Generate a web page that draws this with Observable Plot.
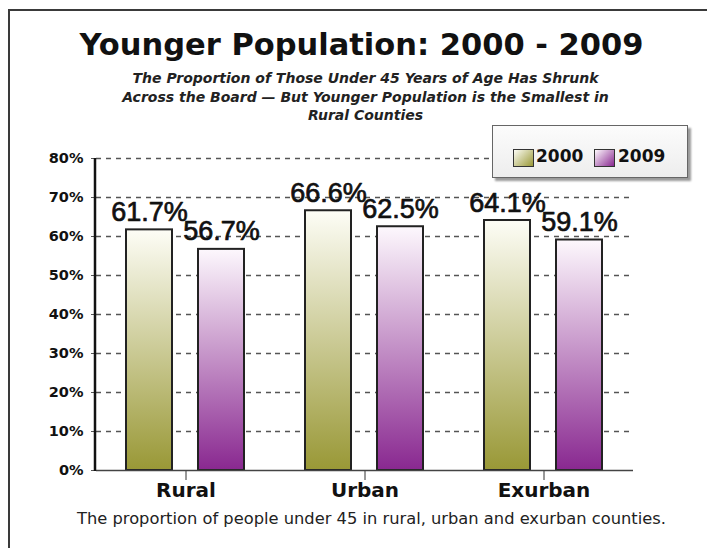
<!DOCTYPE html>
<html>
<head>
<meta charset="utf-8">
<script src="https://cdn.jsdelivr.net/npm/d3@7"></script>
<script src="https://cdn.jsdelivr.net/npm/@observablehq/plot@0.6"></script>
<style>
  html, body { margin: 0; padding: 0; background: #fff; }
  #wrap { position: relative; width: 707px; height: 548px; overflow: hidden; background: #fff; }
  .frame { position: absolute; left: 8px; top: 9px; width: 760px; height: 600px; border-top: 2px solid #3a3a3a; border-left: 2px solid #3a3a3a; box-sizing: border-box; }
  .title { position: absolute; left: 8px; width: 707px; top: 27px; text-align: center; font-family: "DejaVu Sans", sans-serif; font-weight: bold; font-size: 30.5px; line-height: 36px; color: #111; white-space: nowrap; }
  .subtitle { position: absolute; left: 12px; width: 707px; top: 69px; text-align: center; font-family: "DejaVu Sans", sans-serif; font-weight: bold; font-style: italic; font-size: 14px; line-height: 18.5px; color: #222; }
  .caption { position: absolute; left: 18px; width: 707px; top: 509px; text-align: center; font-family: "DejaVu Sans", sans-serif; font-size: 16.3px; line-height: 20px; color: #222; white-space: nowrap; }
  #chart { position: absolute; left: 0; top: 0; }
  .legend { position: absolute; left: 492px; top: 125px; width: 196px; height: 53px; box-sizing: border-box; border: 1.5px solid #666; background: linear-gradient(#fcfcfc, #ededed); box-shadow: 3px 3px 2px #9a9a9a; font-family: "DejaVu Sans", sans-serif; font-weight: bold; font-size: 17px; color: #111; }
  .sw { position: absolute; top: 23px; width: 21px; height: 18px; box-sizing: border-box; border: 1.5px solid #333; }
  .lt { position: absolute; top: 20px; line-height: 20px; }
</style>
</head>
<body>
<div id="wrap">
  <div class="frame"></div>
  <div class="title">Younger Population: 2000 - 2009</div>
  <div class="subtitle">The Proportion of Those Under 45 Years of Age Has Shrunk<br>Across the Board — But Younger Population is the Smallest in<br>Rural Counties</div>
  <div id="chart"></div>
  <div class="legend" id="legend"></div>
  <div class="caption">The proportion of people under 45 in rural, urban and exurban counties.</div>
</div>
<script>
const categories = ["Rural", "Urban", "Exurban"];
const years = ["2000", "2009"];
const values2000 = [61.7, 66.6, 64.1];
const values2009 = [56.7, 62.5, 59.1];
const yTicks = [0, 10, 20, 30, 40, 50, 60, 70, 80];
const yearColors = { "2000": ["#fdfdf6", "#999836"], "2009": ["#fdf8fd", "#892890"] };

const rows = [];
categories.forEach((c, i) => {
  rows.push({ category: c, year: "2000", value: values2000[i] });
  rows.push({ category: c, year: "2009", value: values2009[i] });
});

const plot = Plot.plot({
  width: 707,
  height: 548,
  marginTop: 158,
  marginBottom: 78,
  marginLeft: 95,
  marginRight: 74,
  style: { background: "transparent", overflow: "visible" },
  fx: { domain: categories, padding: 0, label: null, axis: null },
  x: { domain: years, paddingInner: 0.356, paddingOuter: 0.406, axis: null },
  y: { domain: [0, 80], axis: null },
  marks: [
    Plot.ruleY(yTicks.filter(d => d > 0), { stroke: "#555", strokeWidth: 1.3, strokeDasharray: "5,5" }),
    Plot.axisY({ ticks: yTicks, tickFormat: d => d + "%", tickSize: 8, tickPadding: 5, fontSize: 14.5, fontWeight: "bold", fontFamily: "DejaVu Sans", fill: "#111", stroke: "#555", strokeDasharray: "5,5", label: null }),
    Plot.axisFx({ anchor: "bottom", tickSize: 10, tickPadding: 2, fontSize: 20, fontWeight: "bold", fontFamily: "DejaVu Sans", fill: "#111", stroke: "#333", label: null }),
    Plot.barY(rows.filter(d => d.year === "2000"), { fx: "category", x: "year", y: "value", fill: "url(#g2000)", stroke: "#222", strokeWidth: 2 }),
    Plot.barY(rows.filter(d => d.year === "2009"), { fx: "category", x: "year", y: "value", fill: "url(#g2009)", stroke: "#222", strokeWidth: 2 }),
    Plot.ruleY([0], { stroke: "#444", strokeWidth: 1.6 }),
    Plot.text(rows, { fx: "category", x: "year", y: "value", text: d => d.value.toFixed(1) + "%", lineAnchor: "bottom", dy: -9, fontSize: 27, fontFamily: "Liberation Sans", fill: "#111", stroke: "#111", strokeWidth: 0.7 })
  ]
});

// gradient definitions used by the bars
const ns = "http://www.w3.org/2000/svg";
const defs = document.createElementNS(ns, "defs");
years.forEach(yr => {
  const g = document.createElementNS(ns, "linearGradient");
  g.setAttribute("id", "g" + yr);
  g.setAttribute("x1", "0"); g.setAttribute("y1", "0"); g.setAttribute("x2", "0"); g.setAttribute("y2", "1");
  yearColors[yr].forEach((c, i) => {
    const s = document.createElementNS(ns, "stop");
    s.setAttribute("offset", i === 0 ? "0" : "1");
    s.setAttribute("stop-color", c);
    g.appendChild(s);
  });
  defs.appendChild(g);
});
plot.insertBefore(defs, plot.firstChild);

// y axis line
const ys = plot.scale("y");
const axisLine = document.createElementNS(ns, "line");
axisLine.setAttribute("x1", 95); axisLine.setAttribute("x2", 95);
axisLine.setAttribute("y1", ys.apply(80)); axisLine.setAttribute("y2", ys.apply(0) + 1);
axisLine.setAttribute("stroke", "#111"); axisLine.setAttribute("stroke-width", 2.5);
plot.appendChild(axisLine);

document.getElementById("chart").appendChild(plot);

// legend
const legend = document.getElementById("legend");
const swLeft = [20, 101], txLeft = [43, 125];
years.forEach((yr, i) => {
  const sw = document.createElement("div");
  sw.className = "sw";
  sw.style.left = swLeft[i] + "px";
  sw.style.background = `linear-gradient(135deg, ${yearColors[yr][0]}, ${yearColors[yr][1]})`;
  legend.appendChild(sw);
  const t = document.createElement("div");
  t.className = "lt";
  t.style.left = txLeft[i] + "px";
  t.textContent = yr;
  legend.appendChild(t);
});
</script>
</body>
</html>
